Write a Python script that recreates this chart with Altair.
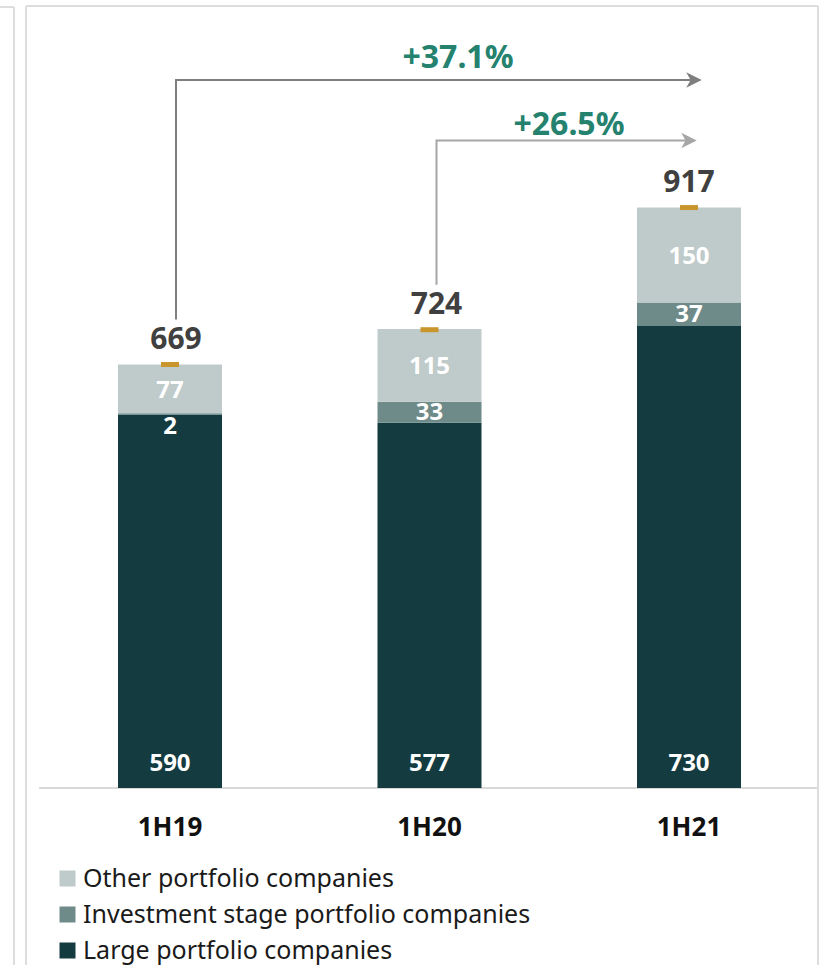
import altair as alt
import pandas as pd
import numpy as np

# ---------------- data ----------------
categories = ["1H19", "1H20", "1H21"]
large = [590, 577, 730]
investment = [2, 33, 37]
other = [77, 115, 150]
totals = [669, 724, 917]
growth_labels = ["+37.1%", "+26.5%"]
growth_from = ["1H19", "1H20"]
growth_to = "1H21"
series_names = ["Other portfolio companies",
                "Investment stage portfolio companies",
                "Large portfolio companies"]
series_colors = ["#BFCACA", "#6E8B8A", "#133B40"]

# ---------------- layout ----------------
W, H = 821, 965
STEP = 259.5     # px between category centres
X0 = 170         # px of first category centre
K = 0.633        # px per unit
BASE = 788       # px of zero line
FONT = "Noto Sans"

XMIN = -X0 / STEP
XMAX = XMIN + W / STEP
YMIN = -(H - BASE) / K
YMAX = YMIN + H / K


def xu(px):
    return px / STEP


def yu(px):
    return px / K


def xpos(px):
    return XMIN + px / STEP


def ypos(py):
    return YMIN + (H - py) / K


def XE(f):
    return alt.X(f, scale=alt.Scale(domain=[XMIN, XMAX], nice=False, zero=False), axis=None)


def YE(f):
    return alt.Y(f, scale=alt.Scale(domain=[YMIN, YMAX], nice=False, zero=False), axis=None)


HALF = xu(52)

# bars
rows = []
for i, c in enumerate(categories):
    segs = [("Large portfolio companies", large[i]),
            ("Investment stage portfolio companies", investment[i]),
            ("Other portfolio companies", other[i])]
    base = 0
    for name, v in segs:
        rows.append(dict(cat=c, idx=i, series=name, y0=base, y1=base + v,
                         x0=i - HALF, x1=i + HALF))
        base += v
bars_df = pd.DataFrame(rows)

bars = alt.Chart(bars_df).mark_rect().encode(
    x=XE("x0:Q"), x2="x1:Q",
    y=YE("y0:Q"), y2="y1:Q",
    color=alt.Color("series:N",
                    scale=alt.Scale(domain=series_names, range=series_colors),
                    legend=alt.Legend(title=None, orient="none", legendX=55, legendY=866,
                                      symbolType="square", symbolSize=256,
                                      symbolStrokeWidth=0, symbolOpacity=1,
                                      labelFontSize=25, labelFont=FONT,
                                      labelColor="#1a1a1a", rowPadding=10,
                                      labelOffset=3, labelLimit=1000,
                                      direction="vertical")),
)

# arrow geometry (annotation layout)
ARROW = "M1,0L-1,-1L-0.45,0L-1,1Z"
arrow_cfg = [
    dict(color="#7F7F7F", start_dx=6, level_py=80, head_dx=5, text_px=458, text_py=58),
    dict(color="#A6A6A6", start_dx=7, level_py=140.5, head_dx=0, text_px=569, text_py=125),
]
start_x = {frm: categories.index(frm) + xu(arrow_cfg[k]["start_dx"])
           for k, frm in enumerate(growth_from)}

# labels inside bars
idx = np.arange(len(categories))
large_df = pd.DataFrame(dict(x=idx, y=[0] * 3, t=[str(v) for v in large]))
inv_mid = []
for i in range(3):
    if investment[i] * K < 14:
        inv_mid.append(large[i] - yu(11))
    else:
        inv_mid.append(large[i] + investment[i] / 2)
inv_df = pd.DataFrame(dict(x=idx, y=inv_mid, t=[str(v) for v in investment]))
oth_df = pd.DataFrame(dict(x=idx, y=[large[i] + investment[i] + other[i] / 2 for i in range(3)],
                           t=[str(v) for v in other]))
tot_x = [start_x.get(c, i) for i, c in enumerate(categories)]
tot_df = pd.DataFrame(dict(x=tot_x, y=totals, t=[str(v) for v in totals]))


def text_layer(df, dy, size, color):
    return alt.Chart(df).mark_text(font=FONT, fontWeight="bold", fontSize=size,
                                   color=color, baseline="middle", align="center",
                                   dy=dy).encode(
        x=XE("x:Q"), y=YE("y:Q"), text="t:N")


lbl_large = text_layer(large_df, -24, 24, "white")
lbl_inv = text_layer(inv_df, 1, 24, "white")
lbl_oth = text_layer(oth_df, 2, 24, "white")
lbl_tot = text_layer(tot_df, -25, 30, "#404040")

# gold markers at bar tops
gold_df = pd.DataFrame(dict(x0=idx - xu(9), x1=idx + xu(9),
                            y0=np.array(totals) - yu(2.5), y1=np.array(totals) + yu(2.5)))
gold = alt.Chart(gold_df).mark_rect(color="#C8962C").encode(
    x=XE("x0:Q"), x2="x1:Q", y=YE("y0:Q"), y2="y1:Q")

# category labels
cat_df = pd.DataFrame(dict(x=idx, y=[ypos(828)] * 3, t=categories))
lbl_cat = text_layer(cat_df, 0, 26, "#111111")

# baseline and frame lines (segments)
FR = "#DDDDDD"
seg_rows = [
    (xpos(39), xpos(818), 0, 0, "#D9D9D9"),
    (xpos(26), xpos(26), ypos(6), ypos(H), FR),
    (xpos(26), xpos(818), ypos(6), ypos(6), FR),
    (xpos(818), xpos(818), ypos(6), ypos(H), FR),
    (xpos(14), xpos(14), ypos(7), ypos(H), FR),
    (xpos(0), xpos(14), ypos(7), ypos(7), FR),
]
seg_df = pd.DataFrame(seg_rows, columns=["x0", "x1", "y0", "y1", "c"])
segs = alt.Chart(seg_df).mark_rule(strokeWidth=2).encode(
    x=XE("x0:Q"), x2="x1:Q",
    y=YE("y0:Q"), y2="y1:Q",
    stroke=alt.Stroke("c:N", scale=None))

# growth arrows
to_i = categories.index(growth_to)
arrow_layers = []
for k, (lab, frm) in enumerate(zip(growth_labels, growth_from)):
    cfg = arrow_cfg[k]
    fi = categories.index(frm)
    sx = start_x[frm]
    hx = to_i + xu(cfg["head_dx"])
    lvl = ypos(cfg["level_py"])
    bottom = totals[fi] + yu(45)
    path_df = pd.DataFrame(dict(x=[sx, sx, hx - xu(3)], y=[bottom, lvl, lvl], o=[0, 1, 2]))
    arrow_layers.append(alt.Chart(path_df).mark_line(color=cfg["color"], strokeWidth=2).encode(
        x=XE("x:Q"), y=YE("y:Q"), order="o:Q"))
    head_df = pd.DataFrame(dict(x=[hx], y=[lvl]))
    arrow_layers.append(alt.Chart(head_df).mark_point(shape=ARROW, filled=True, size=240,
                                                      color=cfg["color"], opacity=1).encode(
        x=XE("x:Q"), y=YE("y:Q")))
    tdf = pd.DataFrame(dict(x=[xpos(cfg["text_px"])], y=[ypos(cfg["text_py"])], t=[lab]))
    arrow_layers.append(text_layer(tdf, 0, 32, "#24826E"))

chart = alt.layer(
    segs, bars, gold, lbl_large, lbl_inv, lbl_oth, lbl_tot, lbl_cat,
    *arrow_layers
).properties(
    width=W, height=H, padding=0, autosize=alt.AutoSizeParams(type="none"),
    background="white"
).configure_view(stroke=None)

chart.save("out.html", embed_options={"renderer": "svg", "actions": False})
